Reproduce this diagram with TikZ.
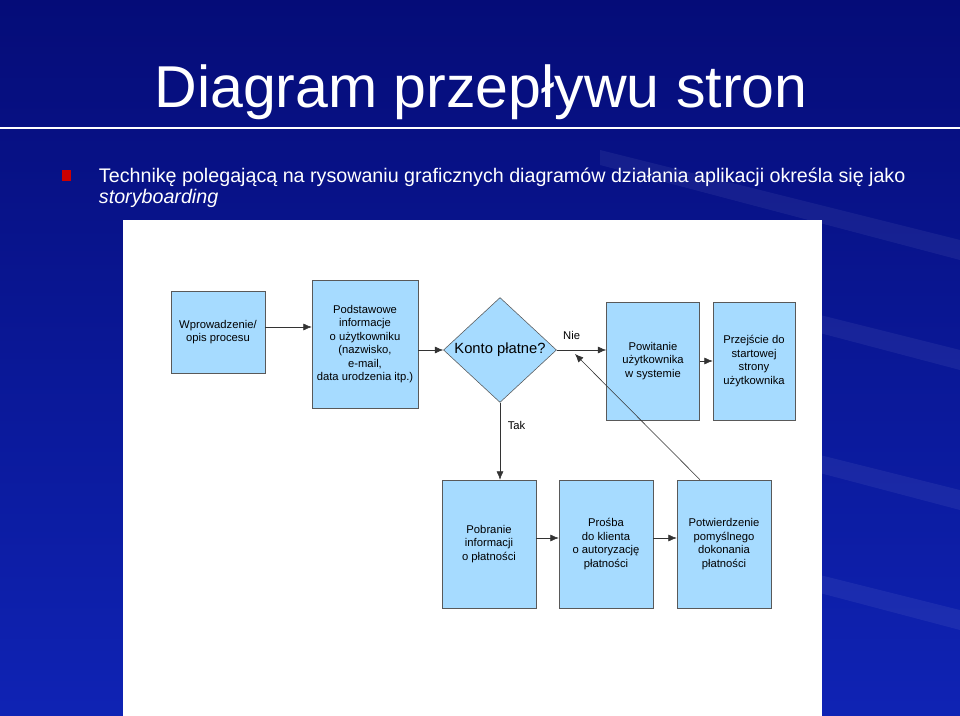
\documentclass[tikz,border=0pt]{standalone}
\usepackage{fontspec}
\setmainfont{Liberation Sans}
\usetikzlibrary{shapes.geometric,arrows.meta}
\begin{document}
\begin{tikzpicture}[x=0.025cm,y=-0.025cm,
    krok/.style={shape=rectangle,draw=gray!70!black,fill=blue!40!cyan!35,align=center,font=\fontsize{8}{9.6}\selectfont,inner sep=1pt},
    strz/.style={-{Latex[length=6pt,width=5pt]},draw=black!80,thin}]
    \definecolor{tlo}{RGB}{5,12,120}
    \definecolor{tloB}{RGB}{15,35,180}
    \useasboundingbox (0,0) rectangle (960,716);
    \shade[top color=tlo,bottom color=tloB] (0,0) rectangle (960,716);
    \foreach \y in {150,260,400,520} \fill[white,opacity=0.06] (600,\y) -- (960,\y+90) -- (960,\y+110) -- (600,\y+15) -- cycle;
    \draw[white,line width=1pt] (0,128) -- (960,128);
    \node[text=white,font=\fontsize{42}{48}\selectfont] (tytul) at (481,92) {Diagram przepływu stron};
    \fill[red!80!black] (62,170) rectangle (71,181);
    \node[text=white,anchor=west,font=\fontsize{14}{17}\selectfont] (opis) at (94,177) {Technikę polegającą na rysowaniu graficznych diagramów działania aplikacji określa się jako};
    \node[text=white,anchor=west,font=\fontsize{14}{17}\selectfont\itshape] (opis2) at (94,198) {storyboarding};
    \fill[white] (123,220) rectangle (822,716);
    \node[krok,minimum width=94*0.025cm,minimum height=82*0.025cm] (wpr) at (218,332) {Wprowadzenie/\\opis procesu};
    \node[krok,minimum width=106*0.025cm,minimum height=128*0.025cm] (pods) at (365,344) {Podstawowe\\informacje\\o użytkowniku\\(nazwisko,\\e-mail,\\data urodzenia itp.)};
    \node[shape=diamond,draw=gray!70!black,fill=blue!40!cyan!35,minimum width=113*0.025cm,minimum height=68*0.025cm,inner sep=0pt,font=\fontsize{10.5}{12}\selectfont] (konto) at (500,350) {Konto płatne?};
    \node[krok,minimum width=93*0.025cm,minimum height=118*0.025cm] (powit) at (653,361) {Powitanie\\użytkownika\\w systemie};
    \node[krok,minimum width=82*0.025cm,minimum height=118*0.025cm] (start) at (754,361) {Przejście do\\startowej\\strony\\użytkownika};
    \node[krok,minimum width=94*0.025cm,minimum height=128*0.025cm] (pobr) at (489,544) {Pobranie\\informacji\\o płatności};
    \node[krok,minimum width=94*0.025cm,minimum height=128*0.025cm] (prosba) at (606,544) {Prośba\\do klienta\\o autoryzację\\płatności};
    \node[krok,minimum width=94*0.025cm,minimum height=128*0.025cm] (potw) at (724,544) {Potwierdzenie\\pomyślnego\\dokonania\\płatności};
    \draw[strz] (wpr.east |- 0,327) -- (pods.west |- 0,327);
    \draw[strz] (pods.east |- konto) -- (konto.west);
    \draw[strz] (konto.east) -- node[pos=0.3,above,yshift=4pt,font=\fontsize{8}{10}\selectfont] (nie) {Nie} (powit.west |- konto);
    \draw[strz] (powit) -- (start);
    \draw[strz] (konto.south) -- node[right,pos=0.3,xshift=2pt,font=\fontsize{8}{10}\selectfont] (tak) {Tak} (konto.south |- pobr.north);
    \draw[strz] (pobr.east |- 0,538) -- (prosba.west |- 0,538);
    \draw[strz] (prosba.east |- 0,538) -- (potw.west |- 0,538);
    \coordinate (grot) at (575,354);
    \draw[strz,thin] (potw.north -| 700,0) -- (grot);
\end{tikzpicture}
\end{document}
